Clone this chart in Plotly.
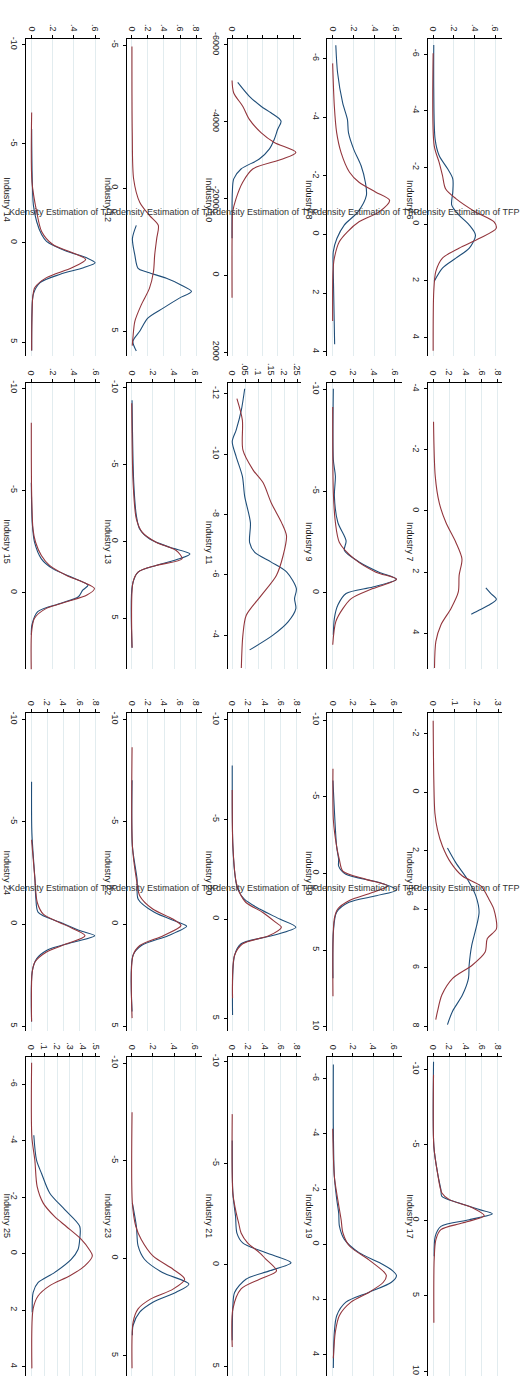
import plotly.graph_objects as go

W, H = 527, 1381
BLUE = "#1f4e79"
RED = "#93363d"
GRID = "#e2ecef"
FONT = "Liberation Sans, Arial, sans-serif"

# ---------------- data: (TFP, density) pairs ----------------
ind14_blue = [(-5.75,0),(-1.92,0.016),(-1.08,0.047),(-0.42,0.094),(-0.08,0.14),(0.42,0.33),(0.75,0.52),(1.0,0.60),(1.25,0.49),(1.58,0.27),(2.0,0.08),(2.58,0.016),(3.5,0.003),(5.42,0)]
ind14_red = [(-6.58,0),(-3.08,0.003),(-1.58,0.047),(-0.58,0.094),(0.08,0.2),(0.42,0.35),(0.83,0.51),(1.25,0.38),(1.75,0.14),(2.25,0.03),(2.75,0.01),(4.0,0.002),(5.42,0)]

ind12_blue = [(1.3,0.058),(1.76,0.01),(2.34,0.04),(2.8,0.08),(2.92,0.18),(3.15,0.43),(3.38,0.61),(3.61,0.74),(3.84,0.59),(4.19,0.39),(4.54,0.2),(5.0,0.1),(5.35,0.016),(5.69,0.058)]
ind12_red = [(-4.95,0.004),(-1.94,0.008),(-0.32,0.025),(0.49,0.1),(0.95,0.22),(1.3,0.33),(1.76,0.31),(2.34,0.285),(2.92,0.27),(3.5,0.22),(4.07,0.12),(4.65,0.04),(5.23,0.016),(5.5,0.008)]

ind10_blue = [(-5026,0.000037),(-4664,0.000113),(-4406,0.000189),(-4234,0.000254),(-4019,0.000320),(-3804,0.000298),(-3546,0.000276),(-3287,0.000243),(-3029,0.000178),(-2771,0.0000587),(-2513,0.0000109),(-2169,0.000002),(-964,0)]
ind10_red = [(-5077,0),(-4750,0.0000109),(-4406,0.0000696),(-4062,0.000113),(-3718,0.000189),(-3460,0.000276),(-3201,0.000417),(-3029,0.000330),(-2771,0.000135),(-2427,0.0000696),(-2000,0.0000261),(-1652,0.0000043),(-964,0),(585,0)]

ind8_blue = [(-6.45,0.03),(-5.5,0.047),(-4.48,0.095),(-3.92,0.14),(-3.47,0.15),(-2.9,0.2),(-2.34,0.27),(-1.78,0.31),(-1.33,0.32),(-0.77,0.24),(-0.32,0.11),(0.14,0.04),(0.59,0.006),(1.26,0.006),(3.74,0.019)]
ind8_red = [(-5.83,0),(-4.37,0.016),(-3.47,0.038),(-2.79,0.08),(-2.12,0.16),(-1.78,0.25),(-1.44,0.41),(-1.16,0.54),(-0.77,0.44),(-0.43,0.25),(-0.09,0.14),(0.25,0.063),(0.81,0.016),(1.26,0.003),(2.95,0)]

ind6_blue = [(-6.32,0.006),(-4.75,0.006),(-3.0,0.019),(-2.42,0.058),(-1.95,0.14),(-1.6,0.19),(-1.13,0.19),(-0.67,0.18),(-0.32,0.25),(0.035,0.35),(0.39,0.41),(0.85,0.35),(1.2,0.22),(1.55,0.09),(2.02,0.01)]
ind6_red = [(-6.03,0),(-2.77,0.01),(-2.18,0.058),(-1.72,0.09),(-1.25,0.12),(-0.9,0.22),(-0.43,0.41),(-0.08,0.59),(0.15,0.61),(0.5,0.45),(0.85,0.25),(1.2,0.09),(1.67,0.026),(2.37,0.006),(4.47,0)]

ind15_blue = [(-5.37,0),(-3.4,0.009),(-2.47,0.03),(-1.66,0.094),(-1.18,0.2),(-0.69,0.41),(-0.37,0.53),(-0.13,0.48),(0.19,0.44),(0.52,0.27),(0.92,0.06),(1.56,0.006),(2.05,0)]
ind15_red = [(-8.3,0),(-4.9,0.003),(-3.1,0.016),(-2.47,0.04),(-1.82,0.094),(-1.34,0.17),(-0.85,0.33),(-0.53,0.48),(-0.21,0.59),(0.11,0.52),(0.44,0.33),(0.76,0.14),(1.24,0.03),(1.89,0.003),(3.98,0)]

ind13_blue = [(-9.2,0.003),(-3.83,0.019),(-1.68,0.044),(-0.82,0.075),(-0.17,0.17),(0.37,0.36),(0.8,0.55),(1.12,0.45),(1.55,0.23),(1.98,0.06),(2.84,0.006),(6.9,0.003)]
ind13_red = [(-9.0,0),(-3.83,0.013),(-1.46,0.044),(-0.6,0.1),(0.04,0.23),(0.58,0.42),(1.12,0.475),(1.55,0.23),(1.98,0.06),(2.6,0.013),(6.9,0.003)]

ind11_blue = [(-12.17,0.048),(-11.46,0.035),(-10.8,0.015),(-10.42,0),(-9.92,0.015),(-9.27,0.039),(-8.6,0.048),(-7.73,0.07),(-7.07,0.067),(-6.75,0.086),(-6.42,0.15),(-6.09,0.21),(-5.54,0.247),(-5.21,0.24),(-4.88,0.245),(-4.44,0.215),(-4.0,0.157),(-3.51,0.067)]
ind11_red = [(-11.84,0.018),(-11.13,0.039),(-10.14,0.041),(-9.48,0.08),(-9.05,0.119),(-8.39,0.15),(-7.73,0.19),(-7.29,0.209),(-6.64,0.196),(-5.98,0.17),(-5.32,0.112),(-4.66,0.054),(-4.0,0.041),(-2.91,0.035)]

ind9_blue = [(-10.03,0.006),(-6.54,0.006),(-5.73,0.026),(-4.76,0.016),(-3.46,0.05),(-2.56,0.13),(-2.08,0.114),(-1.51,0.26),(-1.02,0.45),(-0.67,0.62),(-0.29,0.39),(0.03,0.13),(0.6,0.05),(1.25,0.016),(2.06,0.006)]
ind9_red = [(-9.14,0),(-4.92,0.006),(-3.46,0.026),(-2.48,0.065),(-1.67,0.21),(-1.02,0.42),(-0.67,0.62),(-0.21,0.39),(0.28,0.18),(0.76,0.1),(1.41,0.03),(2.55,0)]

ind7_blue = [(2.52,0.65),(2.7,0.71),(2.89,0.78),(3.08,0.69),(3.24,0.57),(3.38,0.47)]
ind7_red = [(-2.92,0.004),(-1.14,0.025),(-0.27,0.074),(0.38,0.157),(1.03,0.28),(1.57,0.355),(2.11,0.32),(2.65,0.31),(3.19,0.22),(3.73,0.095),(4.27,0.033),(5.14,0.016)]

ind24_blue = [(-6.95,0.004),(-4.44,0.008),(-2.18,0.046),(-1.21,0.058),(-0.57,0.087),(-0.08,0.36),(0.32,0.6),(0.57,0.79),(0.89,0.52),(1.29,0.19),(1.7,0.066),(2.34,0.012),(4.77,0.004)]
ind24_red = [(-4.12,0.004),(-2.18,0.046),(-1.05,0.075),(-0.48,0.15),(0.08,0.44),(0.57,0.67),(0.97,0.44),(1.37,0.19),(1.86,0.046),(2.34,0.012),(4.77,0.004)]

ind22_blue = [(-7.03,0.004),(-3.8,0.008),(-2.18,0.066),(-1.21,0.08),(-0.57,0.28),(-0.08,0.58),(0.11,0.68),(0.57,0.45),(1.05,0.12),(1.53,0.016),(4.28,0.004)]
ind22_red = [(-8.64,0.004),(-3.8,0.008),(-2.18,0.058),(-1.37,0.1),(-0.73,0.26),(-0.24,0.51),(0.08,0.61),(0.57,0.39),(1.05,0.1),(1.53,0.016),(4.6,0.004)]

ind20_blue = [(-7.71,0),(-3.65,0.008),(-1.99,0.041),(-1.49,0.07),(-1.0,0.15),(-0.5,0.34),(0.0,0.59),(0.41,0.79),(0.83,0.5),(1.24,0.11),(1.82,0.029),(4.81,0.004)]
ind20_red = [(-6.47,0),(-3.65,0.008),(-1.82,0.05),(-1.33,0.09),(-0.83,0.17),(-0.33,0.38),(0.17,0.54),(0.41,0.61),(0.83,0.46),(1.24,0.13),(1.82,0.029),(3.98,0.004)]

ind18_blue = [(-6.06,0.003),(-1.76,0.039),(-0.9,0.059),(-0.47,0.059),(0.06,0.13),(0.6,0.46),(1.08,0.63),(1.46,0.43),(1.89,0.16),(2.54,0.039),(3.83,0.007),(6.84,0.003)]
ind18_red = [(-6.82,0.003),(-3.48,0.007),(-1.76,0.039),(-0.9,0.066),(-0.15,0.1),(0.39,0.33),(0.82,0.54),(1.25,0.39),(1.78,0.16),(2.32,0.05),(2.97,0.016),(8.02,0.003)]

ind16_blue = [(1.9,0.066),(2.41,0.105),(2.97,0.158),(3.54,0.197),(4.1,0.212),(4.67,0.197),(5.23,0.178),(5.91,0.166),(6.36,0.163),(6.93,0.135),(7.49,0.089),(7.94,0.066)]
ind16_red = [(-2.45,0),(-0.42,0.003),(0.71,0.008),(1.28,0.02),(1.84,0.043),(2.41,0.082),(2.86,0.135),(3.2,0.22),(3.66,0.258),(3.99,0.28),(4.67,0.292),(5.0,0.25),(5.46,0.24),(5.91,0.18),(6.36,0.09),(6.93,0.04),(7.49,0.02),(7.77,0.012)]

ind25_blue = [(-4.19,0.02),(-3.31,0.041),(-2.84,0.08),(-2.14,0.144),(-1.56,0.26),(-0.97,0.376),(-0.5,0.376),(-0.15,0.363),(0.2,0.31),(0.67,0.18),(1.02,0.054),(1.37,0.015),(2.07,0.008)]
ind25_red = [(-6.76,0.003),(-4.13,0.005),(-3.31,0.028),(-2.37,0.046),(-1.79,0.093),(-1.32,0.18),(-0.97,0.27),(-0.5,0.39),(-0.15,0.45),(0.08,0.474),(0.43,0.415),(0.78,0.3),(1.13,0.144),(1.49,0.054),(1.95,0.015),(4.06,0.005)]

ind23_blue = [(-2.83,0.006),(-1.64,0.044),(-0.63,0.06),(0.05,0.12),(0.73,0.29),(1.32,0.54),(1.74,0.42),(2.25,0.2),(2.76,0.075),(3.43,0.013),(3.94,0.006)]
ind23_red = [(-7.48,0.003),(-2.83,0.006),(-1.64,0.038),(-0.96,0.09),(-0.12,0.2),(0.56,0.39),(1.07,0.5),(1.58,0.39),(2.08,0.18),(2.59,0.06),(3.27,0.013),(5.63,0.003)]

ind21_blue = [(-6.12,0),(-3.52,0.008),(-2.39,0.041),(-1.57,0.058),(-1.09,0.13),(-0.6,0.42),(-0.11,0.73),(0.29,0.46),(0.7,0.17),(1.35,0.029),(2.0,0.008),(3.7,0)]
ind21_red = [(-7.42,0),(-3.52,0.008),(-2.55,0.05),(-2.06,0.08),(-1.57,0.11),(-1.09,0.19),(-0.6,0.34),(-0.28,0.42),(0.29,0.55),(0.7,0.34),(1.18,0.11),(2.16,0.008),(4.03,0)]

ind19_blue = [(-6.5,0.006),(-4.24,0.006),(-2.45,0.016),(-1.61,0.04),(-1.13,0.059),(-0.66,0.066),(-0.18,0.115),(0.3,0.26),(0.66,0.46),(0.95,0.59),(1.13,0.63),(1.37,0.58),(1.73,0.36),(2.09,0.13),(2.57,0.04),(3.16,0.016),(4.47,0.006)]
ind19_red = [(-4.18,0),(-2.45,0.016),(-1.61,0.05),(-0.89,0.083),(-0.42,0.1),(0.06,0.165),(0.54,0.35),(1.01,0.51),(1.13,0.53),(1.37,0.5),(1.73,0.36),(2.09,0.18),(2.57,0.066),(3.16,0.026),(4.12,0.006)]

ind17_blue = [(-10.5,0.004),(-4.9,0.008),(-3.13,0.054),(-2.03,0.095),(-1.59,0.107),(-1.15,0.32),(-0.71,0.57),(-0.44,0.73),(-0.04,0.445),(0.4,0.095),(1.06,0.025),(2.38,0.012)]
ind17_red = [(-9.64,0.004),(-4.9,0.008),(-3.13,0.054),(-1.81,0.107),(-1.37,0.2),(-0.82,0.49),(-0.31,0.63),(0.18,0.36),(0.62,0.095),(1.28,0.033),(2.6,0.012),(6.79,0.008)]

# tick labels
TFP_TICKS = {
    14: [-10, -5, 0, 5], 12: [-5, 0, 5], 10: [-6000, -4000, -2000, 0, 2000],
    8: [-6, -4, -2, 0, 2, 4], 6: [-6, -4, -2, 0, 2, 4],
    15: [-10, -5, 0], 13: [-10, -5, 0, 5], 11: [-12, -10, -8, -6, -4],
    9: [-10, -5, 0], 7: [-4, -2, 0, 2, 4],
    24: [-10, -5, 0, 5], 22: [-10, -5, 0, 5], 20: [-10, -5, 0, 5],
    18: [-10, -5, 0, 5, 10], 16: [-2, 0, 2, 4, 6, 8],
    25: [-6, -4, -2, 0, 2, 4], 23: [-10, -5, 0, 5], 21: [-10, -5, 0, 5],
    19: [-6, -4, -2, 0, 2, 4], 17: [-10, -5, 0, 5, 10],
}
DEN_TICKS = {
    14: [0, .2, .4, .6], 12: [0, .2, .4, .6, .8], 10: [0, .0001, .0002, .0003, .0004],
    8: [0, .2, .4, .6], 6: [0, .2, .4, .6],
    15: [0, .2, .4, .6], 13: [0, .2, .4, .6], 11: [0, .05, .1, .15, .2, .25],
    9: [0, .2, .4, .6], 7: [0, .2, .4, .6, .8],
    24: [0, .2, .4, .6, .8], 22: [0, .2, .4, .6, .8], 20: [0, .2, .4, .6, .8],
    18: [0, .2, .4, .6], 16: [0, .1, .2, .3],
    25: [0, .1, .2, .3, .4, .5], 23: [0, .2, .4, .6], 21: [0, .2, .4, .6, .8],
    19: [0, .2, .4, .6], 17: [0, .2, .4, .6, .8],
}
UNLABELED_DEN = {10}

CURVES = {
    14: (ind14_blue, ind14_red), 12: (ind12_blue, ind12_red), 10: (ind10_blue, ind10_red),
    8: (ind8_blue, ind8_red), 6: (ind6_blue, ind6_red),
    15: (ind15_blue, ind15_red), 13: (ind13_blue, ind13_red), 11: (ind11_blue, ind11_red),
    9: (ind9_blue, ind9_red), 7: (ind7_blue, ind7_red),
    24: (ind24_blue, ind24_red), 22: (ind22_blue, ind22_red), 20: (ind20_blue, ind20_red),
    18: (ind18_blue, ind18_red), 16: (ind16_blue, ind16_red),
    25: (ind25_blue, ind25_red), 23: (ind23_blue, ind23_red), 21: (ind21_blue, ind21_red),
    19: (ind19_blue, ind19_red), 17: (ind17_blue, ind17_red),
}

# ---------------- layout (pixel geometry + axis ranges) ----------------
GRID_ORDER = [
    [14, 12, 10, 8, 6],
    [15, 13, 11, 9, 7],
    [24, 22, 20, 18, 16],
    [25, 23, 21, 19, 17],
]
COLS = [(26, 100), (127, 202), (228, 302), (328, 403), (429, 503)]
ROWS = [(32, 352), (379, 668), (712, 1033), (1059, 1381)]
LABEL_Y = [195, 540, 874, 1220]
TITLE_Y = [207, 889]

# (tfp at top, tfp at bottom), (density at left, density at right)
RANGES = {
    14: ((-10.3, 5.7), (-0.054, 0.644)),
    12: ((-5.22, 5.86), (-0.06, 0.865)),
    10: ((-6163, 2098), (-0.0000293, 0.000453)),
    8: ((-6.67, 4.14), (-0.05, 0.66)),
    6: ((-6.54, 4.65), (-0.048, 0.667)),
    15: ((-10.26, 3.73), (-0.05, 0.64)),
    13: ((-10.34, 8.3), (-0.047, 0.66)),
    11: ((-12.37, -2.87), (-0.018, 0.2665)),
    9: ((-10.33, 3.75), (-0.052, 0.676)),
    7: ((-4.2, 5.18), (-0.062, 0.85)),
    24: ((-10.32, 5.23), (-0.066, 0.854)),
    22: ((-10.32, 5.23), (-0.062, 0.866)),
    20: ((-10.35, 5.62), (-0.058, 0.859)),
    18: ((-10.47, 10.28), (-0.052, 0.685)),
    16: ((-2.72, 8.16), (-0.023, 0.318)),
    25: ((-6.97, 4.33), (-0.041, 0.532)),
    23: ((-10.32, 6.03), (-0.047, 0.66)),
    21: ((-10.24, 5.46), (-0.058, 0.859)),
    19: ((-6.78, 4.76), (-0.053, 0.687)),
    17: ((-10.83, 10.31), (-0.062, 0.85)),
}


def fmt_den(v):
    s = f"{v:g}"
    if s.startswith("0."):
        s = s[1:]
    return s


def fmt_tfp(v):
    return f"{v:g}"


fig = go.Figure()
layout = dict(
    width=W, height=H, margin=dict(l=0, r=0, t=0, b=0),
    paper_bgcolor="white", plot_bgcolor="white", showlegend=False,
    font=dict(family=FONT, size=9, color="#222222"),
)
annotations = []

n = 0
for r, row in enumerate(GRID_ORDER):
    top, bot = ROWS[r]
    for c, ind in enumerate(row):
        n += 1
        left, right = COLS[c]
        xa = "x" if n == 1 else f"x{n}"
        ya = "y" if n == 1 else f"y{n}"
        blue, red = CURVES[ind]
        for pts, col in ((blue, BLUE), (red, RED)):
            fig.add_trace(go.Scatter(
                x=[p[1] for p in pts], y=[p[0] for p in pts],
                mode="lines", line=dict(color=col, width=1.1, shape="spline", smoothing=0.8),
                xaxis=xa, yaxis=ya, hoverinfo="skip", cliponaxis=True,
            ))
        (t_top, t_bot), (d_l, d_r) = RANGES[ind]
        dt = DEN_TICKS[ind]
        if ind in UNLABELED_DEN:
            dtext = ["0"] + [""] * (len(dt) - 1)
        else:
            dtext = [fmt_den(v) for v in dt]
        tt = TFP_TICKS[ind]
        layout["xaxis" if n == 1 else f"xaxis{n}"] = dict(
            domain=[left / W, right / W], anchor=ya, side="top",
            range=[d_l, d_r], tickmode="array", tickvals=dt, ticktext=dtext,
            tickangle=90, ticks="outside", ticklen=3, tickcolor="black", tickwidth=1,
            showline=True, linecolor="black", linewidth=1,
            showgrid=True, gridcolor=GRID, gridwidth=1, zeroline=False,
            tickfont=dict(size=9, color="#222222", family=FONT), fixedrange=True,
        )
        layout["yaxis" if n == 1 else f"yaxis{n}"] = dict(
            domain=[1 - bot / H, 1 - top / H], anchor=xa,
            range=[t_bot, t_top], tickmode="array", tickvals=tt,
            ticktext=[fmt_tfp(v) for v in tt],
            tickangle=90, ticks="outside", ticklen=3, tickcolor="black", tickwidth=1,
            showline=True, linecolor="black", linewidth=1,
            showgrid=False, zeroline=False,
            tickfont=dict(size=9, color="#222222", family=FONT), fixedrange=True,
        )
        annotations.append(dict(
            text=f"Industry {ind}", xref="paper", yref="paper",
            x=(left - 19) / W, y=1 - LABEL_Y[r] / H, xanchor="center", yanchor="middle",
            textangle=90, showarrow=False, font=dict(size=9, color="#222222", family=FONT),
        ))

for ty in TITLE_Y:
    for left, right in COLS:
        annotations.append(dict(
            text="Kdensity Estimation of TFP", xref="paper", yref="paper",
            x=(left + right) / 2 / W, y=1 - ty / H, xanchor="center", yanchor="middle",
            showarrow=False, font=dict(size=9, color="#333333", family=FONT),
        ))

layout["annotations"] = annotations
fig.update_layout(**layout)
fig.write_html("out.html")
